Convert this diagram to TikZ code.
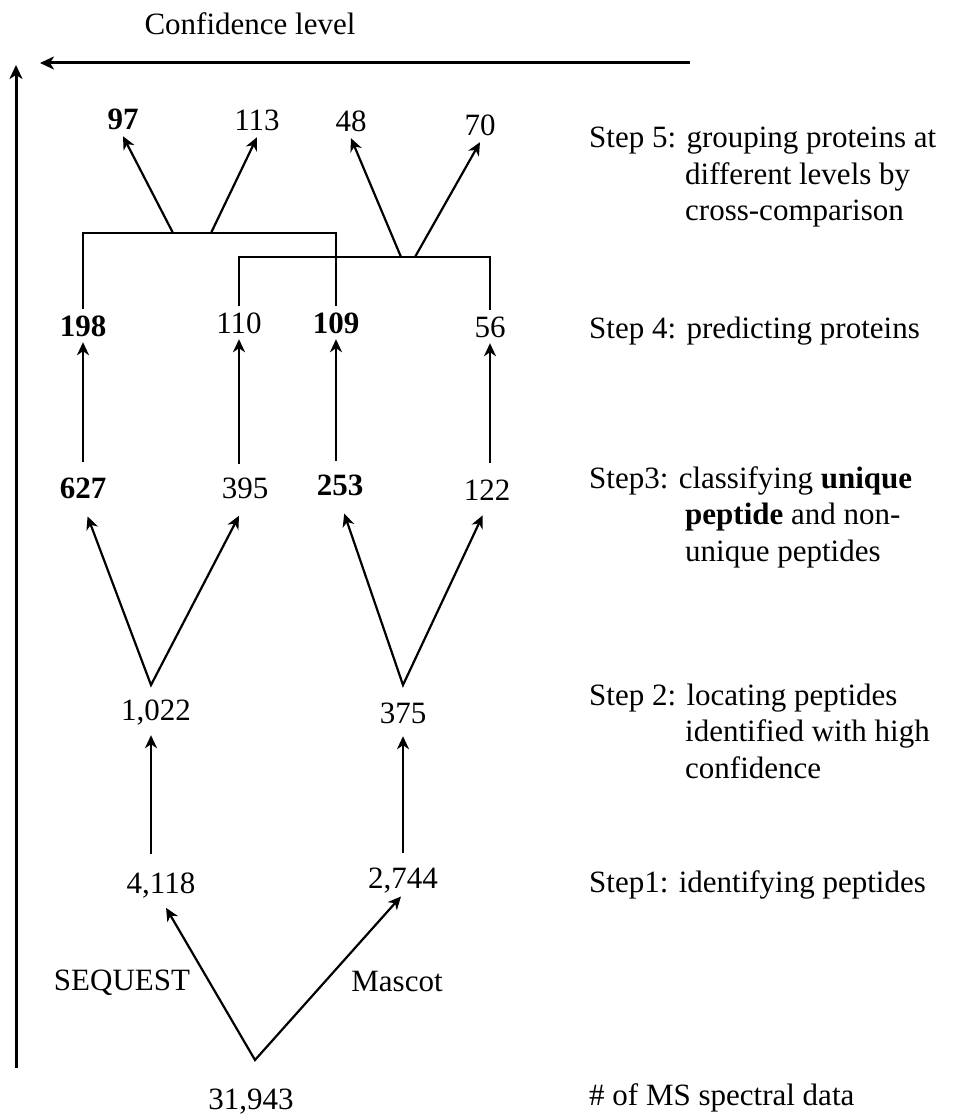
\documentclass[tikz,border=0pt]{standalone}
\usepackage{fontspec}
\setmainfont{Liberation Serif}
\usetikzlibrary{arrows.meta}

\tikzset{
	num/.style={anchor=base, inner sep=6pt, text height=21pt, text depth=0pt, font=\fontsize{31}{37}\selectfont},
	bnum/.style={num, font=\fontsize{31}{37}\selectfont\bfseries},
	steplabel/.style={anchor=base west, inner sep=0pt, font=\fontsize{31}{36.5}\selectfont},
	link/.style={line width=2.2pt},
	arr/.style={link, -{Stealth[length=13pt, width=12pt, inset=4pt]}},
	twoarr/.style={link, line join=miter, {Stealth[length=13pt, width=12pt, inset=4pt]}-{Stealth[length=13pt, width=12pt, inset=4pt]}},
	axis/.style={line width=3pt, -{Stealth[length=14pt, width=13pt, inset=4pt]}}
}
\newcommand{\steptext}[1]{\parbox[t]{400pt}{\hangindent=96pt\hangafter=1 #1}}

\begin{document}
\begin{tikzpicture}[x=1pt, y=-1pt]
			\useasboundingbox (0,0) rectangle (954,1115);

			\coordinate (axR) at (690,63);
			\coordinate (axL) at (40,63);
			\coordinate (axB) at (16,1068);
			\coordinate (axT) at (16,65);

			\begin{scope}
				\draw [axis] (axR) -- (axL);
				\draw [axis] (axB) -- (axT);
				\node [steplabel, anchor=base] (conf) at (250,35) {Confidence level};
			\end{scope}

			% counts, from bottom to top
			\begin{scope}
				\node [num] (n31943) at (251,1109) {31,943};
				\node [num] (n4118) at (161,893) {4,118};
				\node [num] (n2744) at (403,888) {2,744};
				\node [num] (sequest) at (122,990) {SEQUEST};
				\node [num] (mascot) at (397,991) {Mascot};
				\node [num] (n1022) at (156,720) {1,022};
				\node [num] (n375) at (403,723) {375};
				\node [bnum] (n627) at (83,498) {627};
				\node [num] (n395) at (245,498) {395};
				\node [bnum] (n253) at (340,495) {253};
				\node [num] (n122) at (487,500) {122};
				\node [bnum] (n198) at (83,336) {198};
				\node [num] (n110) at (239,333) {110};
				\node [bnum] (n109) at (336,333) {109};
				\node [num] (n56) at (490,337) {56};
				\node [bnum] (n97) at (123,130) {97};
				\node [num] (n113) at (257,131) {113};
				\node [num] (n48) at (351,132) {48};
				\node [num] (n70) at (480,136) {70};
			\end{scope}

			\coordinate (root) at (255,1060);
			\coordinate (v1) at (151,685);
			\coordinate (v2) at (403,685);
			\coordinate (g1a) at (173,233);
			\coordinate (g1b) at (211,233);
			\coordinate (g2a) at (401,257);
			\coordinate (g2b) at (415,257);

			\begin{scope}
				\draw [twoarr, shorten <=10pt, shorten >=3pt] (n4118.south) -- (root) -- (n2744.south);

				\draw [arr, shorten <=12pt, shorten >=9pt] (n4118.north -| v1) -- (n1022.south -| v1);
				\draw [arr, shorten <=8pt, shorten >=7pt] (n2744.north -| v2) -- (n375.south -| v2);

				\draw [twoarr, shorten <=13pt, shorten >=13pt] (n627.south) -- (v1) -- (n395.south);
				\draw [twoarr, shorten <=13pt, shorten >=10pt] (n253.south) -- (v2) -- (n122.south);

				\draw [arr, shorten <=9pt] (n627.north) -- (n198.south);
				\draw [arr, shorten <=7pt] (n395.north -| n110) -- (n110.south);
				\draw [arr, shorten <=7pt] (n253.north -| n109) -- (n109.south);
				\draw [arr, shorten <=10pt] (n122.north -| n56) -- (n56.south);
			\end{scope}

			\begin{scope}
				\draw [link] (n198.north) |- (g1a) -- (g1b) -| (n109.north);
				\draw [link] (n110.north) |- (g2a) -- (g2b) -| (n56.north);

				\draw [arr] (g1a) -- (n97.south);
				\draw [arr] (g1b) -- (n113.south);
				\draw [arr] (g2a) -- (n48.south);
				\draw [arr] (g2b) -- (n70.south);
			\end{scope}

			% steps on the right
			\begin{scope}
				\node [steplabel] (s5) at (589,148) {\steptext{Step 5: grouping proteins at\\different levels by\\cross-comparison}};
				\node [steplabel] (s4) at (589,338) {Step 4: predicting proteins};
				\node [steplabel] (s3) at (589,488) {\steptext{Step3: classifying \textbf{unique}\\\textbf{peptide} and non-\\unique peptides}};
				\node [steplabel] (s2) at (589,705) {\steptext{Step 2: locating peptides\\identified with high\\confidence}};
				\node [steplabel] (s1) at (589,892) {Step1: identifying peptides};
				\node [steplabel] (s0) at (589,1105) {\# of MS spectral data};
			\end{scope}
		\end{tikzpicture}
\end{document}
